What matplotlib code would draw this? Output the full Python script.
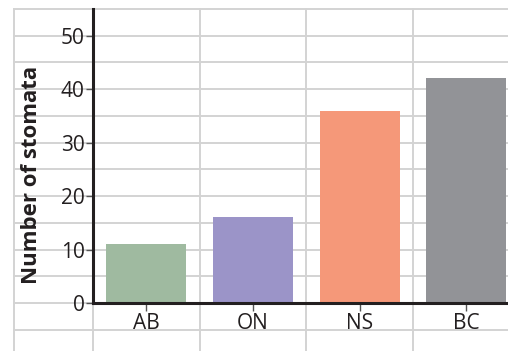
import matplotlib
matplotlib.use("Agg")
import matplotlib.pyplot as plt

provinces = ["AB", "ON", "NS", "BC"]
stomata_counts = [11, 16, 36, 42]
bar_colors = ["#9fbaa0", "#9b94c8", "#f59879", "#929397"]
y_ticks = [0, 10, 20, 30, 40, 50]

W, H, DPI = 508, 351, 100
fig = plt.figure(figsize=(W / DPI, H / DPI), dpi=DPI)
plt.rcParams["font.family"] = ["Open Sans", "DejaVu Sans"]

# axes frame in pixels: left spine at x=93, bottom spine at y=303, top at y=9
left_px, bottom_px, top_px = 93, 303, 9
ax = fig.add_axes([left_px / W, (H - bottom_px) / H,
                   (W - left_px) / W, (bottom_px - top_px) / H])
ymax = 55
xmin = -0.5
px_per_x = 106.7
xmax = xmin + (W - left_px) / px_per_x
ax.set_xlim(xmin, xmax)
ax.set_ylim(0, ymax)

grid_kw = dict(color="#d3d3d3", lw=1.4, clip_on=False, zorder=0.5)
x_border = xmin - 79 / px_per_x
for yv in range(-10, ymax + 1, 5):
    ax.plot([x_border, xmax + 1], [yv, yv], **grid_kw)
for xv in [x_border, -0.5, 0.5, 1.5, 2.5, 3.5]:
    ax.plot([xv, xv], [-12, ymax], **grid_kw)

ax.bar(range(len(provinces)), stomata_counts, width=0.75,
       color=bar_colors, zorder=2)

for side in ["top", "right"]:
    ax.spines[side].set_visible(False)
for side in ["left", "bottom"]:
    ax.spines[side].set_color("#231f20")
    ax.spines[side].set_linewidth(2.2)
    ax.spines[side].set_zorder(3)

ax.set_yticks(y_ticks)
ax.set_xticks(range(len(provinces)))
ax.set_xticklabels(provinces)
ax.tick_params(axis="y", length=5, width=1, color="#555555", pad=1,
               labelsize=15, labelcolor="#231f20")
ax.tick_params(axis="x", length=6, width=1, color="#555555", pad=1,
               labelsize=15, labelcolor="#231f20")
ax.patch.set_alpha(0)

fig.text(32 / W, 1 - 175 / H, "Number of stomata", rotation=90,
         ha="center", va="center", fontsize=16, fontweight="bold",
         color="#231f20")

fig.savefig("out.png", dpi=DPI)
